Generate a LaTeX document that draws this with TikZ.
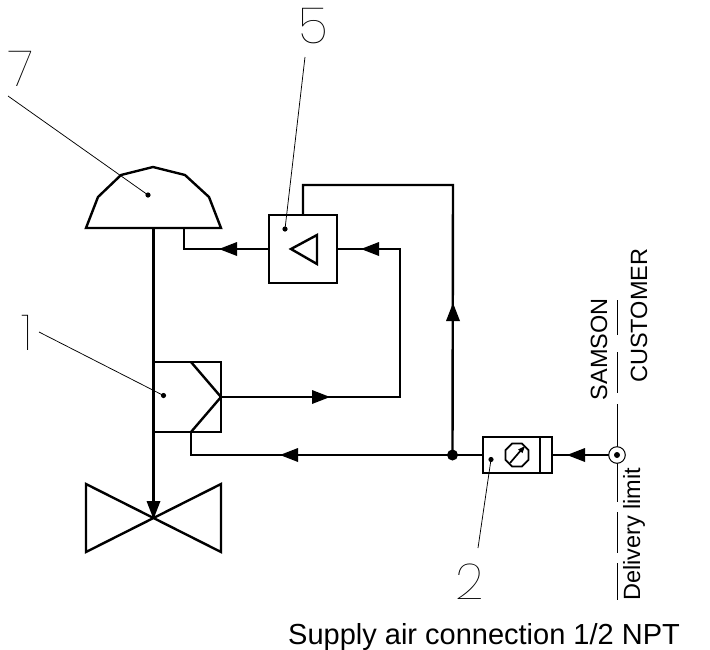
\documentclass[tikz,border=0pt]{standalone}
\usepackage{fontspec}
\setmainfont{Liberation Sans}
\newfontfamily\thinfont{Poppins Thin}
\newcommand{\flowtip}[3]{\fill[shift={(#1,#2)},rotate=#3] (0,0)--(18,-7)--(18,7)--cycle;}
\tikzset{
  pipe/.style={line width=2.4pt,line join=miter},
  part/.style={line width=2.4pt,line join=miter},
  leader/.style={line width=0.75pt},
  limit/.style={line width=0.9pt},
  num/.style={font=\thinfont\fontsize{50}{50}\selectfont,inner sep=0pt},
  lab/.style={font=\fontsize{23.5}{24}\selectfont,inner sep=0pt,rotate=90},
}
\begin{document}
\begin{tikzpicture}[x=1pt,y=-1pt]
\useasboundingbox (0,0) rectangle (710,649);
% named points
\coordinate (domeA) at (184,228);
\coordinate (b5L) at (269,249);
\coordinate (b5R) at (337,249);
\coordinate (b5T) at (303,215);
\coordinate (b1R) at (221,397);
\coordinate (b1B) at (191,432);
\coordinate (junction) at (452.5,455);
\coordinate (b2L) at (483,455);
\coordinate (b2R) at (552,455);
\coordinate (conn) at (617,455);
\coordinate (valve) at (153.5,518);
% dome
\draw[part] (86,228)--(98,197)--(121,175)--(153,167)--(185,175)--(209,197)--(221,228)--cycle;
% valve
\draw[part] (86,484)--(221,552)--(221,484)--(86,552)--cycle;
% boxes
\draw[part] (269,215) rectangle (337,283);
\draw[part] (291,249)--(317,235)--(317,264)--cycle;
\draw[part] (153.5,362) rectangle (221,432);
\draw[part] (191,362)--(b1R)--(b1B);
\draw[part] (483,437) rectangle (552,473);
\draw[part] (540,437)--(540,473);
% stem
\draw[pipe] (153.5,228)--(valve);
% gauge
\draw[line width=1.7pt] (517,455) +(22.5:12.5)--+(67.5:12.5)--+(112.5:12.5)--+(157.5:12.5)--+(202.5:12.5)--+(247.5:12.5)--+(292.5:12.5)--+(337.5:12.5)--cycle;
\draw[line width=1.7pt] (510,463)--(522,449);
\fill (525,446)--(518,449.5)--(522.5,453)--cycle;
% pipes
\draw[pipe] (domeA)--(184,249)--(b5L);
\draw[pipe] (b5T)--(303,185)--(453,185)--(junction);
\draw[pipe] (b5R)--(400,249)--(400,397)--(b1R);
\draw[pipe] (b1B)--(191,455)--(b2L);
\draw[pipe] (b2R)--(conn);
% flow arrows
\flowtip{219}{249}{0}
\flowtip{361}{249}{0}
\flowtip{330}{397}{180}
\flowtip{280}{455}{0}
\flowtip{567}{455}{0}
\flowtip{453}{303}{-90}
\flowtip{153.5}{519}{90}
% junction
\fill (junction) circle (5.5);
% delivery limit line
\draw[limit] (617,300)--(617,335) (617,352)--(617,393) (617,404)--(617,447) (617,463)--(617,502) (617,512)--(617,553) (617,563)--(617,600);
\draw[line width=1pt,fill=white] (conn) circle (8.3);
\fill (conn) circle (3);
% leaders and dots
\fill (148,195) circle (2.6);
\fill (285,229) circle (2.6);
\fill (163.5,395.5) circle (2.6);
\fill (491,459.5) circle (2.6);
\draw[leader] (8,96)--(148,195);
\draw[leader] (305,57)--(285,229);
\draw[leader] (39,332)--(163.5,395.5);
\draw[leader] (491,459.5)--(478,548);
% numbers
\node[num] (n7) at (21.5,68.5) {7};
\node[num] (n5) at (313,26.5) {5};
\node[num] (n1) at (27,332.5) {1};
\node[num] (n2) at (470,581.5) {2};
% text
\node[lab,anchor=west] (samson) at (599,400.5) {SAMSON};
\node[lab,anchor=west] (customer) at (639,383) {CUSTOMER};
\node[lab,anchor=west] (dlimit) at (634,601) {Delivery limit};
\node[anchor=base west,inner sep=0pt,font=\fontsize{29}{30}\selectfont] (supply) at (288,644) {Supply air connection 1/2 NPT};
\end{tikzpicture}
\end{document}
